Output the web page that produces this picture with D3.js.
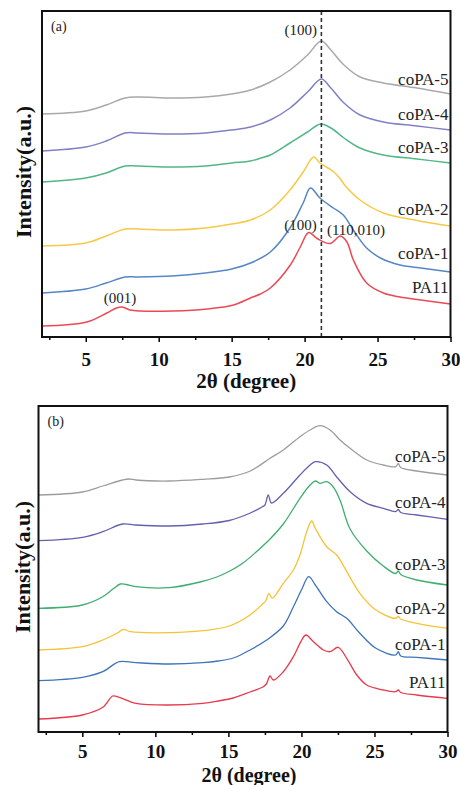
<!DOCTYPE html>
<html>
<head>
<meta charset="utf-8">
<script src="https://cdn.jsdelivr.net/npm/d3@7"></script>
<style>
  html, body { margin: 0; padding: 0; background: #fff; }
  svg { display: block; }
</style>
</head>
<body>
<script>
// ---------------- DATA ----------------
const samples = ["coPA-5", "coPA-4", "coPA-3", "coPA-2", "coPA-1", "PA11"];
const xTicks = [5, 10, 15, 20, 25, 30];
const xMinorTicks = [2.5, 7.5, 12.5, 17.5, 22.5, 27.5];
const xDomain = [2, 30];
const yDomain = [0, 326];
const dashTheta = 21.15;

// panel (a): [2θ, intensity (a.u., offset stacked)]
const a_coPA5 = [[2,223],[5,226],[6.4,232],[7.7,239],[8.6,240],[10.9,239],[13.2,240],[15,243],[16.3,247],[17.65,255],[19,267],[20.2,282],[21.15,296],[21.8,287],[22.7,272],[23.8,260],[25.4,254],[27.7,249],[30,243]];
const a_coPA4 = [[2,186],[5,190],[6.4,196],[7.7,204],[8.6,204],[10.9,203],[13.2,204],[15,207],[16.3,210],[17.65,217],[19,229],[20.2,245],[21.15,258],[21.8,249],[22.7,234],[23.8,222],[25.4,215],[27.7,211],[30,207]];
const a_coPA3 = [[2,155],[5,159],[6.4,164],[7.7,171],[8.6,171],[10.9,170],[13.2,171],[15,174],[16.3,176],[17,179],[17.65,182],[19,194],[20.2,205],[21.1,213],[21.8,209],[22.7,199],[23.8,189],[25.4,182],[27.7,178],[30,174]];
const a_coPA2 = [[2,91],[5,94],[6.4,101],[7.7,108],[8.6,108],[10.9,107],[13.2,109],[15,113],[16.3,117],[17.65,127],[19,147],[19.9,165],[20.62,180],[21.05,174],[21.6,169],[22,165],[22.4,159],[22.8,151],[23.8,137],[25.4,124],[27.7,116.5],[30,111]];
const a_coPA1 = [[2,44],[5,48],[6.4,54],[7.7,60],[8.6,60],[10.9,61],[13.2,64],[15,68],[16.3,74],[17.65,85],[19,109],[19.9,134],[20.4,149],[21.05,139],[21.97,129],[22.65,122],[23.34,107],[24.25,89],[25.2,79],[26.54,72],[27.7,69.5],[30,65]];
const a_PA11  = [[2,11],[5.07,15],[6.44,24],[7.1,29],[7.5,30],[8.04,27],[8.73,26],[11,26],[13.3,28],[15.13,32],[16.28,39],[16.96,43],[17.65,49],[19.02,72],[19.7,90],[20.28,104.5],[20.86,98.5],[21.75,93.5],[22.45,101],[22.9,95],[23.34,77],[24.25,54],[25.4,44],[26.54,40],[27.7,37.5],[30,33]];
const a_labelLevels = [252, 217, 184, 122, 78, 44];
const a_notes = [
  { text: "(100)",     theta: 20.85, level: 302, anchor: "end" },
  { text: "(001)",     theta: 7.35,  level: 34,  anchor: "middle" },
  { text: "(100)",     theta: 20.83, level: 107, anchor: "end" },
  { text: "(110,010)", theta: 21.53, level: 102, anchor: "start" }
];

// panel (b)
const b_coPA5 = [[2,237],[5,240],[6.4,246],[7.76,252],[8.2,253],[8.67,252],[10.95,251],[13.24,252.7],[15.06,255],[16.5,261],[17.85,273.7],[18.76,282],[19.9,295.3],[20.59,302],[21.27,306.3],[21.96,302],[22.64,292],[23.33,283.7],[24.47,272],[25.6,267],[26.45,265.3],[26.63,268.5],[26.8,264.5],[27.89,261],[30,257]];
const b_coPA4 = [[2,191.3],[5,194.7],[6.4,200.3],[7.76,208],[8.67,207],[10.95,206],[13.24,208],[15.06,211.5],[16.5,219],[17.3,225],[17.5,227],[17.73,237],[17.95,229],[18.76,238.7],[19.9,257],[20.59,267],[20.95,270.3],[21.73,267],[22.4,255.3],[23.33,240.3],[24.47,228.7],[25.6,223.7],[26.45,220.5],[26.63,222.5],[26.8,219.5],[27.89,217],[30,212.7]];
const b_coPA3 = [[2,123.7],[5,127],[6.4,135.3],[7.1,143],[7.6,148],[8,147.5],[8.67,145.3],[10.95,144.3],[13.06,150],[14.2,155],[15.1,161],[16,169],[16.9,180],[17.85,193],[18.76,208],[19.9,233.7],[20.59,247],[20.95,251],[21.27,248.7],[21.73,250.3],[22.18,245],[22.64,232],[23.33,203],[24.47,181],[25.6,166],[26.45,158.5],[26.63,161],[26.8,157.5],[27.89,152],[30,147]];
const b_coPA2 = [[2,82],[5,85.3],[6.4,92],[7.4,99],[7.8,102.7],[8.3,100.3],[10.95,99.3],[13.24,101.3],[15.06,106],[16.48,117],[17.39,128.7],[17.55,131],[17.78,138.7],[18,133.7],[18.76,148.7],[19.45,162],[19.9,177],[20.36,200.3],[20.7,211],[20.95,203.7],[21.73,185.3],[22.41,177],[22.98,163.7],[24,138.7],[25.1,122],[26.45,113.7],[26.63,115.5],[26.8,113],[27.89,108.7],[30,103.7]];
const b_coPA1 = [[2,51.3],[5,54.7],[6.4,60.3],[7.53,70.3],[8.67,69.3],[10.95,68],[13.24,69.3],[14.3,71],[15.34,74],[16.48,82],[17.62,92],[18.76,106],[19.45,125.3],[20,142],[20.5,155.3],[20.95,147],[21.73,130.3],[22.41,120.3],[23.1,113.7],[24,98.7],[25.1,83.7],[26.45,77],[26.63,80.3],[26.8,76],[27.89,74.7],[30,72]];
const b_PA11  = [[2,13],[5,17],[6.4,24.7],[7.08,36],[7.53,34.7],[8.67,28.7],[10.95,27],[13.24,28.7],[14.3,31],[15.34,34],[16.48,40],[17.39,45.3],[17.6,48],[17.85,56],[18.08,52],[18.76,60.3],[19.45,75.3],[19.9,88.7],[20.3,97],[20.82,90.3],[21.5,82],[21.96,80.3],[22.52,84.7],[23.1,73.7],[23.79,57],[24.47,47],[25.6,42],[26.45,40.3],[26.63,42],[26.8,39.5],[27.89,37],[30,33.7]];
const b_labelLevels = [270, 224, 162, 118, 82, 44];

// ---------------- STYLE / LAYOUT ----------------
const W = 460, H = 785;
const serif = "'Liberation Serif', 'Times New Roman', Times, serif";
const colorsA = ["#a9a9a9", "#8080c6", "#52b787", "#f7c948", "#5686c6", "#ea4a55"];
const colorsB = ["#9d9d9d", "#6460b0", "#3fae70", "#f6c236", "#3f74bb", "#e8394d"];

const panels = [
  { tag: "(a)", box: { l: 42, r: 450.5, t: 11, b: 337 },
    series: [a_coPA5, a_coPA4, a_coPA3, a_coPA2, a_coPA1, a_PA11],
    levels: a_labelLevels, colors: colorsA, notes: a_notes, dash: true,
    tickBase: 366, titleBase: 388, titleShift: 0, titleSize: 21, yTitleX: 31, lw: 1.5 },
  { tag: "(b)", box: { l: 38.5, r: 447.5, t: 406, b: 732 },
    series: [b_coPA5, b_coPA4, b_coPA3, b_coPA2, b_coPA1, b_PA11],
    levels: b_labelLevels, colors: colorsB, notes: [], dash: false,
    tickBase: 758, titleBase: 782, titleShift: 6, titleSize: 20, yTitleX: 30, lw: 1.3 }
];

const svg = d3.select("body").append("svg")
  .attr("width", W).attr("height", H)
  .style("background", "#fff");

panels.forEach(p => {
  const x = d3.scaleLinear().domain(xDomain).range([p.box.l, p.box.r]);
  const y = d3.scaleLinear().domain(yDomain).range([p.box.b, p.box.t]);
  const g = svg.append("g");

  const line = d3.line()
    .x(d => x(d[0])).y(d => y(d[1]))
    .curve(d3.curveCatmullRom.alpha(0.5));

  // curves
  p.series.forEach((s, i) => {
    g.append("path")
      .attr("d", line(s))
      .attr("fill", "none")
      .attr("stroke", p.colors[i])
      .attr("stroke-width", p.lw)
      .attr("stroke-linejoin", "round");
  });

  // dashed reference line
  if (p.dash) {
    g.append("line")
      .attr("x1", x(dashTheta)).attr("x2", x(dashTheta))
      .attr("y1", y(yDomain[1])).attr("y2", y(yDomain[0]))
      .attr("stroke", "#333").attr("stroke-width", 1.6)
      .attr("stroke-dasharray", "4,3");
  }

  // sample labels
  samples.forEach((name, i) => {
    g.append("text")
      .attr("x", x(xDomain[1]) - 2)
      .attr("y", y(p.levels[i]))
      .attr("text-anchor", "end")
      .attr("font-family", serif)
      .attr("font-size", 17)
      .attr("fill", "#222")
      .text(name);
  });

  // peak annotations
  p.notes.forEach(n => {
    g.append("text")
      .attr("x", x(n.theta)).attr("y", y(n.level))
      .attr("text-anchor", n.anchor)
      .attr("font-family", serif)
      .attr("font-size", 15)
      .attr("fill", "#222")
      .text(n.text);
  });

  // minor ticks
  const minor = g.append("g")
    .attr("transform", `translate(0,${p.box.b})`)
    .call(d3.axisBottom(x).tickValues(xMinorTicks).tickSize(3).tickSizeOuter(0).tickFormat(""));
  minor.select(".domain").remove();
  minor.selectAll("line").attr("stroke", "#000").attr("stroke-width", 1.5);

  // major ticks + labels
  const ax = g.append("g")
    .attr("transform", `translate(0,${p.box.b})`)
    .call(d3.axisBottom(x).tickValues(xTicks).tickSize(5).tickSizeOuter(0).tickFormat(d3.format("d")));
  ax.select(".domain").remove();
  ax.selectAll("line").attr("stroke", "#000").attr("stroke-width", 1.5);
  ax.selectAll("text")
    .attr("y", p.tickBase - p.box.b).attr("dy", 0)
    .attr("font-family", serif).attr("font-size", 19).attr("font-weight", "bold")
    .attr("fill", "#111");

  // frame
  g.append("rect")
    .attr("x", p.box.l).attr("y", p.box.t)
    .attr("width", p.box.r - p.box.l).attr("height", p.box.b - p.box.t)
    .attr("fill", "none").attr("stroke", "#111").attr("stroke-width", 2);

  // panel tag
  g.append("text")
    .attr("x", p.box.l + 9).attr("y", p.box.t + 20)
    .attr("font-family", serif).attr("font-size", 14).attr("fill", "#222")
    .text(p.tag);

  // x title
  g.append("text")
    .attr("x", (p.box.l + p.box.r) / 2 + p.titleShift).attr("y", p.titleBase)
    .attr("text-anchor", "middle")
    .attr("font-family", serif).attr("font-size", p.titleSize).attr("font-weight", "bold")
    .attr("fill", "#111")
    .text("2θ (degree)");

  // y title
  const cy = (p.box.t + p.box.b) / 2 - 2;
  g.append("text")
    .attr("transform", `translate(${p.yTitleX},${cy}) rotate(-90)`)
    .attr("text-anchor", "middle")
    .attr("font-family", serif).attr("font-size", 22).attr("font-weight", "bold")
    .attr("fill", "#111")
    .text("Intensity(a.u.)");
});
</script>
</body>
</html>
